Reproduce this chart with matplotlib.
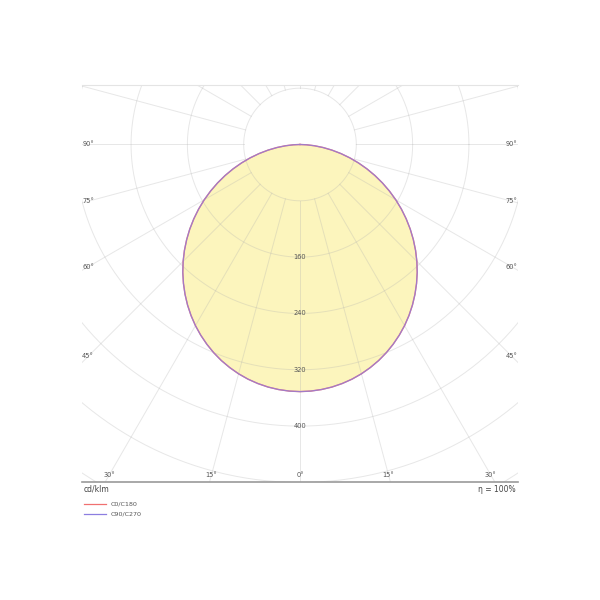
import numpy as np
import matplotlib
matplotlib.use("Agg")
from matplotlib import pyplot as plt

# luminous intensity distribution, cd/klm, gamma from nadir
gamma = [0, 2.5, 5, 7.5, 10, 12.5, 15, 17.5, 20, 22.5, 25, 27.5, 30, 32.5, 35, 37.5, 40, 42.5, 45,
         47.5, 50, 52.5, 55, 57.5, 60, 62.5, 65, 67.5, 70, 72.5, 75, 77.5, 80, 82.5, 85, 87.5, 90]
c0_c180 = [351.0, 350.6, 349.4, 347.5, 344.8, 341.4, 337.2, 332.2, 326.6, 320.2, 313.1, 305.4, 297.1,
           288.1, 278.5, 268.3, 257.6, 246.5, 234.8, 222.7, 210.2, 197.4, 184.2, 170.8, 157.1, 143.2,
           129.2, 115.2, 101.1, 87.1, 73.2, 59.5, 46.1, 33.1, 20.7, 9.3, 0.0]
c90_c270 = [351.0, 350.6, 349.4, 347.5, 344.8, 341.4, 337.2, 332.2, 326.6, 320.2, 313.1, 305.4, 297.1,
            288.1, 278.5, 268.3, 257.6, 246.5, 234.8, 222.7, 210.2, 197.4, 184.2, 170.8, 157.1, 143.2,
            129.2, 115.2, 101.1, 87.1, 73.2, 59.5, 46.1, 33.1, 20.7, 9.3, 0.0]

ring_values = [80, 160, 240, 320, 400, 480, 560, 640]
ring_labels = ["", "160", "240", "320", "400", "", "", ""]
bottom_angles = [-30, -15, 0, 15, 30]
side_angles = [45, 60, 75, 90]
efficiency = "η = 100%"
unit = "cd/klm"

fig = plt.figure(figsize=(6, 6), dpi=100)
ax = fig.add_axes([82/600, 118/600, 436/600, 397/600])
ax.set_xlim(-309.7, 309.7)
ax.set_ylim(-479.4, 84.5)
ax.set_xticks([])
ax.set_yticks([])
for s in ["left", "right"]:
    ax.spines[s].set_visible(False)
ax.spines["top"].set_color("#e4e4e4")
ax.spines["top"].set_linewidth(0.8)
ax.spines["bottom"].set_color("#9a9a9a")
ax.spines["bottom"].set_linewidth(1.2)


def curve(vals):
    g = np.radians(np.array(gamma, float))
    v = np.array(vals, float)
    g = np.concatenate([-g[::-1], g[1:]])
    v = np.concatenate([v[::-1], v[1:]])
    return v*np.sin(g), -v*np.cos(g)


x1, y1 = curve(c0_c180)
x2, y2 = curve(c90_c270)
ax.fill(x1, y1, color="#fcf5bd", zorder=1, lw=0)

# grid
t = np.linspace(0, 2*np.pi, 400)
for r in ring_values:
    ax.plot(r*np.cos(t), r*np.sin(t), color="#b0b0b0", alpha=0.3, lw=0.7, zorder=2)
for a in range(0, 360, 15):
    ar = np.radians(a)
    ax.plot([80*np.sin(ar), 900*np.sin(ar)], [-80*np.cos(ar), -900*np.cos(ar)],
            color="#b0b0b0", alpha=0.3, lw=0.7, zorder=2)

ax.plot(x1, y1, color="#f07070", lw=1.0, zorder=4)
ax.plot(x2, y2, color="#8c7ee0", lw=0.9, zorder=4, alpha=0.8)

for r, lab in zip(ring_values, ring_labels):
    if lab:
        ax.text(0, -r, lab, fontsize=4.8, color="#555555", ha="center", va="center", zorder=5)

for a in bottom_angles:
    ax.text(469*np.tan(np.radians(a)), -469, "%d°" % abs(a), fontsize=4.8, color="#555555",
            ha="center", va="center", zorder=5)
for a in side_angles:
    yy = -301/np.tan(np.radians(a))
    ax.text(-301, yy, "%d°" % a, fontsize=4.8, color="#555555", ha="center", va="center", zorder=5)
    ax.text(301, yy, "%d°" % a, fontsize=4.8, color="#555555", ha="center", va="center", zorder=5)

fig.text(84/600, 1-489.5/600, unit, fontsize=5.5, color="#444444", ha="left", va="center")
fig.text(516/600, 1-489.5/600, efficiency, fontsize=5.5, color="#444444", ha="right", va="center")

fig.add_artist(plt.Line2D([84/600, 106/600], [1-504/600, 1-504/600], color="#f07070", lw=0.9))
fig.add_artist(plt.Line2D([84/600, 106/600], [1-514/600, 1-514/600], color="#8c7ee0", lw=0.9))
fig.text(111/600, 1-504/600, "C0/C180", fontsize=4.6, color="#555555", ha="left", va="center")
fig.text(111/600, 1-514/600, "C90/C270", fontsize=4.6, color="#555555", ha="left", va="center")

fig.savefig("out.png", dpi=100, facecolor="white")
